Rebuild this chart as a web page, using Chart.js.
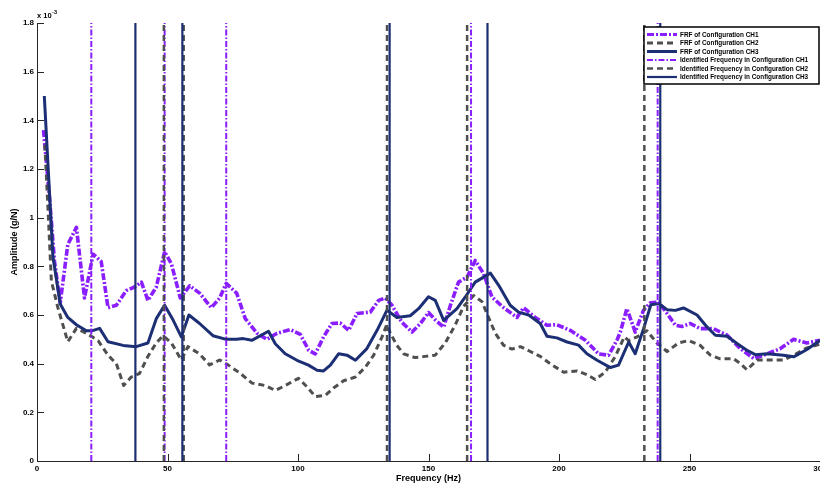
<!DOCTYPE html>
<html>
<head>
<meta charset="utf-8">
<script src="https://cdn.jsdelivr.net/npm/chart.js@4.4.0/dist/chart.umd.min.js"></script>
<style>
html,body{margin:0;padding:0;background:#fff;}
#wrap{width:820px;height:486px;position:relative;}
</style>
</head>
<body>
<div id="wrap"><canvas id="c" width="820" height="486"></canvas></div>
<script>
// Amplitudes in units of 1e-3 g/N (axis shows "x 10^-3")
const freqCH1 = [2.5, 4.8, 6.7, 8.9, 11.8, 15.1, 18.2, 21.5, 24.6, 27.2, 30.4, 34.2, 37.4, 40, 42.5, 45.7, 48.9, 51.5, 54.9, 58.5, 62.3, 66.8, 70, 72.5, 76.5, 79.8, 84.3, 88.1, 92, 97, 100.9, 104.1, 106.6, 109.8, 113, 116.2, 119.4, 122.6, 127.7, 130.9, 133.4, 136, 139.8, 143.7, 146.9, 150, 152.6, 155.8, 158.4, 161.5, 164.8, 167.9, 171.1, 174.3, 178.8, 183.9, 186.4, 190.9, 195.4, 199.2, 204.3, 210.1, 215.2, 219, 222.2, 223.5, 226, 229.2, 232.4, 235, 238.2, 241.4, 244.6, 247.1, 250.3, 254.1, 259.2, 264.4, 269.5, 274.6, 278.4, 284.8, 289.9, 295, 300];
const ampCH1 = [1.36, 1.08, 0.82, 0.65, 0.89, 0.96, 0.67, 0.85, 0.82, 0.63, 0.64, 0.70, 0.715, 0.735, 0.66, 0.715, 0.86, 0.81, 0.67, 0.72, 0.69, 0.63, 0.67, 0.73, 0.69, 0.585, 0.525, 0.50, 0.525, 0.54, 0.52, 0.455, 0.44, 0.51, 0.565, 0.567, 0.537, 0.606, 0.612, 0.66, 0.67, 0.64, 0.57, 0.53, 0.565, 0.61, 0.58, 0.55, 0.64, 0.735, 0.756, 0.824, 0.77, 0.674, 0.63, 0.59, 0.63, 0.59, 0.558, 0.56, 0.537, 0.496, 0.44, 0.435, 0.496, 0.53, 0.626, 0.53, 0.62, 0.65, 0.653, 0.606, 0.558, 0.553, 0.565, 0.544, 0.544, 0.517, 0.462, 0.421, 0.435, 0.462, 0.50, 0.485, 0.496];

const freqCH2 = [3, 4.2, 5.5, 8, 11.8, 15.1, 18.9, 23.4, 27.2, 30.4, 33.2, 36.1, 39.3, 42.5, 45.7, 48.3, 51.5, 55.3, 57.8, 62.3, 66.1, 70, 73.2, 77.9, 82.4, 87.5, 91.3, 95.1, 100.2, 103.4, 106.6, 110.5, 113.6, 117.5, 122, 125.8, 129, 132.2, 134, 135.4, 137.9, 140.5, 144.9, 148.8, 152.6, 156.4, 160.3, 163.4, 167.3, 170.5, 173, 175.6, 178.8, 182, 185.2, 189, 192.8, 197.3, 201.8, 206.9, 210.7, 213.9, 217.7, 221.6, 225, 226.7, 229.9, 233.7, 237.5, 241.4, 245.8, 249.7, 254.1, 258, 261.8, 266.9, 269.5, 272, 275.9, 281, 286, 289.9, 295, 300];
const ampCH2 = [1.30, 1.04, 0.74, 0.63, 0.49, 0.545, 0.525, 0.495, 0.435, 0.40, 0.31, 0.345, 0.36, 0.43, 0.485, 0.515, 0.485, 0.415, 0.47, 0.44, 0.395, 0.415, 0.395, 0.36, 0.32, 0.31, 0.29, 0.31, 0.34, 0.305, 0.265, 0.27, 0.30, 0.33, 0.345, 0.385, 0.435, 0.51, 0.56, 0.525, 0.475, 0.44, 0.425, 0.43, 0.435, 0.485, 0.56, 0.635, 0.68, 0.655, 0.59, 0.525, 0.475, 0.46, 0.47, 0.45, 0.43, 0.395, 0.365, 0.37, 0.355, 0.335, 0.365, 0.43, 0.51, 0.495, 0.51, 0.535, 0.485, 0.45, 0.485, 0.495, 0.475, 0.435, 0.42, 0.42, 0.40, 0.375, 0.415, 0.415, 0.415, 0.435, 0.465, 0.48];

const freqCH3 = [2.8, 6.1, 8.9, 11.8, 15.1, 18.9, 21, 24, 27.2, 33, 38, 42.5, 45.7, 48.9, 52.1, 55.3, 58.2, 62.3, 67.4, 72.5, 76.5, 79, 82.3, 88.7, 91.3, 95.1, 99.6, 104, 107.3, 109.8, 112.4, 115.6, 118.8, 122, 126.4, 130.3, 134.1, 137.9, 143, 146.2, 150, 152.6, 155.8, 160.9, 164.1, 167.9, 173.7, 176.9, 181.3, 184.5, 188.4, 192.8, 195.4, 199.2, 203.1, 207.5, 210.7, 214.6, 219.7, 222.8, 226.7, 229.2, 232.4, 235.2, 238.2, 241.4, 244.6, 247.7, 252.9, 256.7, 259.9, 264.4, 268.2, 272, 275.2, 279.7, 286, 289.9, 295, 300];
const ampCH3 = [1.50, 0.84, 0.645, 0.59, 0.56, 0.535, 0.535, 0.545, 0.49, 0.475, 0.47, 0.485, 0.585, 0.64, 0.58, 0.51, 0.60, 0.565, 0.515, 0.50, 0.50, 0.503, 0.496, 0.533, 0.482, 0.441, 0.414, 0.394, 0.373, 0.37, 0.394, 0.441, 0.435, 0.414, 0.462, 0.537, 0.62, 0.59, 0.597, 0.626, 0.675, 0.66, 0.578, 0.626, 0.674, 0.735, 0.772, 0.722, 0.64, 0.612, 0.60, 0.565, 0.513, 0.506, 0.489, 0.476, 0.441, 0.414, 0.384, 0.394, 0.489, 0.441, 0.544, 0.642, 0.647, 0.622, 0.619, 0.629, 0.60, 0.551, 0.517, 0.513, 0.483, 0.455, 0.437, 0.441, 0.435, 0.428, 0.458, 0.496];

// Identified frequencies (Hz)
const identCH1 = [20.8, 48.9, 72.5, 166.3, 237.8];
const identCH2 = [48.6, 56.2, 134.1, 164.8, 232.7];
const identCH3 = [37.7, 55.7, 135.1, 172.6, 238.8];

const xTicks = [0, 50, 100, 150, 200, 250, 300];
const yTicks = [0, 0.2, 0.4, 0.6, 0.8, 1, 1.2, 1.4, 1.6, 1.8];

const seriesLabels = [
  'FRF of Configuration CH1',
  'FRF of Configuration CH2',
  'FRF of Configuration CH3',
  'Identified Frequency in Configuration CH1',
  'Identified Frequency in Configuration CH2',
  'Identified Frequency in Configuration CH3'
];
const xTitle = 'Frequency (Hz)';
const yTitle = 'Amplitude (g/N)';
const exponentBase = 'x 10';
const exponentPow = '-3';

const X_MIN = xTicks[0], X_MAX = xTicks[xTicks.length - 1];
const Y_MIN = yTicks[0], Y_MAX = yTicks[yTicks.length - 1];

const PURPLE = '#8A1EFF', GREY = '#4F4F4F', NAVY = '#1C2E74';
const FONT = '"Liberation Sans", Arial, Helvetica, sans-serif';

function pairs(fs, as) { return fs.map((f, i) => ({ x: f, y: as[i] })); }
function vlines(fs) {
  const pts = [];
  fs.forEach(f => { pts.push({ x: f, y: Y_MIN }, { x: f, y: Y_MAX }, { x: f, y: null }); });
  return pts;
}

const datasets = [
  { label: seriesLabels[0], data: pairs(freqCH1, ampCH1), borderColor: PURPLE, borderWidth: 3.6, borderDash: [7, 2, 2, 2], order: 6 },
  { label: seriesLabels[1], data: pairs(freqCH2, ampCH2), borderColor: GREY, borderWidth: 3, borderDash: [6, 4], order: 5 },
  { label: seriesLabels[2], data: pairs(freqCH3, ampCH3), borderColor: NAVY, borderWidth: 3, borderDash: [], order: 4 },
  { label: seriesLabels[3], data: vlines(identCH1), borderColor: PURPLE, borderWidth: 2, borderDash: [6, 2, 1.5, 2], order: 3 },
  { label: seriesLabels[4], data: vlines(identCH2), borderColor: GREY, borderWidth: 2.5, borderDash: [6, 4], order: 2 },
  { label: seriesLabels[5], data: vlines(identCH3), borderColor: NAVY, borderWidth: 2.2, borderDash: [], order: 1 }
];
datasets.forEach(d => { d.fill = false; d.pointRadius = 0; d.tension = 0; d.spanGaps = false; d.borderCapStyle = 'butt'; d.borderJoinStyle = 'round'; });

const decorPlugin = {
  id: 'decor',
  afterDraw(chart) {
    const ctx = chart.ctx, ca = chart.chartArea;
    const xs = chart.scales.x, ys = chart.scales.y;
    ctx.save();
    // inward tick marks
    ctx.strokeStyle = '#262626';
    ctx.lineWidth = 1;
    ctx.setLineDash([]);
    ctx.beginPath();
    xTicks.forEach(v => { const p = Math.round(xs.getPixelForValue(v)) + 0.5; ctx.moveTo(p, ca.bottom); ctx.lineTo(p, ca.bottom - 7); });
    yTicks.forEach(v => { const p = Math.round(ys.getPixelForValue(v)) + 0.5; ctx.moveTo(ca.left, p); ctx.lineTo(ca.left + 7, p); });
    ctx.stroke();
    // exponent label
    ctx.fillStyle = '#000';
    ctx.textBaseline = 'alphabetic';
    ctx.textAlign = 'left';
    ctx.font = 'bold 7.5px ' + FONT;
    ctx.fillText(exponentBase, ca.left, ca.top - 5);
    const w = ctx.measureText(exponentBase).width;
    ctx.font = 'bold 5.5px ' + FONT;
    ctx.fillText(exponentPow, ca.left + w + 0.5, ca.top - 9);
    // legend box
    const bx = 644, by = 27, bw = 175, bh = 57;
    ctx.fillStyle = '#fff';
    ctx.fillRect(bx, by, bw, bh);
    ctx.strokeStyle = '#000';
    ctx.lineWidth = 1.5;
    ctx.strokeRect(bx, by, bw, bh);
    const ds = chart.data.datasets;
    ds.forEach((d, i) => {
      const y = by + 7.5 + i * 8.5;
      ctx.save();
      ctx.strokeStyle = d.borderColor;
      ctx.lineWidth = i < 3 ? Math.min(d.borderWidth, 3) : Math.min(d.borderWidth, 2.5);
      ctx.setLineDash(d.borderDash || []);
      ctx.beginPath();
      ctx.moveTo(bx + 3, y);
      ctx.lineTo(bx + 33, y);
      ctx.stroke();
      ctx.restore();
      ctx.fillStyle = '#000';
      ctx.font = 'bold 6.4px ' + FONT;
      ctx.textBaseline = 'middle';
      ctx.fillText(d.label, bx + 36, y + 0.5);
    });
    ctx.restore();
  }
};

new Chart(document.getElementById('c'), {
  type: 'line',
  data: { datasets },
  options: {
    responsive: false,
    animation: false,
    events: [],
    layout: { padding: { top: 23, right: 0, left: 0, bottom: 0 } },
    plugins: { legend: { display: false }, tooltip: { enabled: false } },
    scales: {
      x: {
        type: 'linear', min: X_MIN, max: X_MAX,
        grid: { display: false, drawTicks: false },
        border: { display: true, color: '#262626', width: 1 },
        afterBuildTicks: s => { s.ticks = xTicks.map(v => ({ value: v })); },
        afterFit: s => { s.height = 25; s.paddingLeft = 0; s.paddingRight = 0; },
        ticks: { autoSkip: false, maxRotation: 0, padding: 3, color: '#000', font: { family: FONT, size: 8, weight: 'bold' }, callback: v => String(v) },
        title: { display: true, text: xTitle, color: '#000', font: { family: FONT, size: 9, weight: 'bold' }, padding: { top: 0, bottom: 2 } }
      },
      y: {
        type: 'linear', min: Y_MIN, max: Y_MAX,
        grid: { display: false, drawTicks: false },
        border: { display: true, color: '#262626', width: 1 },
        afterBuildTicks: s => { s.ticks = yTicks.map(v => ({ value: v })); },
        afterFit: s => { s.width = 37; s.paddingTop = 0; s.paddingBottom = 0; },
        ticks: { autoSkip: false, padding: 3, color: '#000', font: { family: FONT, size: 8, weight: 'bold' }, callback: v => String(v) },
        title: { display: true, text: yTitle, color: '#000', font: { family: FONT, size: 9, weight: 'bold' }, padding: { top: 9, bottom: 0 } }
      }
    }
  },
  plugins: [decorPlugin]
});
</script>
</body>
</html>
